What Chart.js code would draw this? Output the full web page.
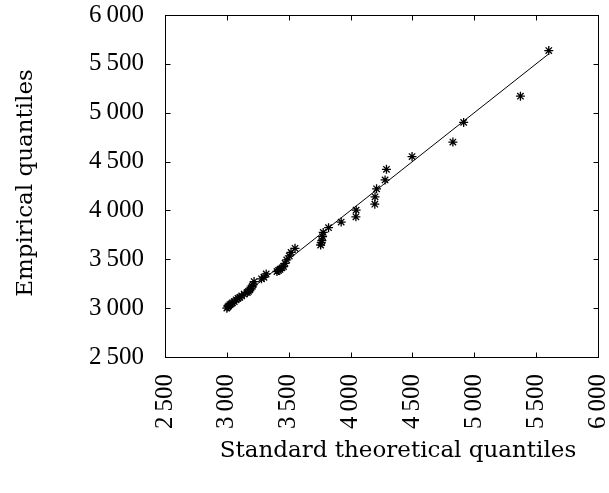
<!DOCTYPE html>
<html>
<head>
<meta charset="utf-8">
<script src="https://cdn.jsdelivr.net/npm/chart.js@4"></script>
<style>
  html, body { margin: 0; padding: 0; background: #fff; }
</style>
</head>
<body>
<canvas id="qq" width="609" height="493"></canvas>
<script>
// QQ plot: theoretical vs empirical quantiles
const theoretical = [
    3000, 3008, 3015, 3025, 3035, 3045, 3060, 3075, 3090, 3105,
    3120, 3140, 3165, 3175, 3185, 3195, 3205, 3212, 3220, 3280,
    3300, 3318, 3405, 3418, 3430, 3445, 3458, 3470, 3484, 3505,
    3519, 3551, 3758, 3763, 3768, 3774, 3779, 3822, 3924, 4043,
    4045, 4196, 4198, 4210, 4279, 4290, 4497, 4827, 4914, 5373,
    5602,
];
const empirical = [
    3000, 3012, 3023, 3035, 3044, 3055, 3067, 3085, 3100, 3110,
    3125, 3143, 3160, 3172, 3188, 3204, 3222, 3238, 3272, 3300,
    3316, 3350, 3375, 3386, 3398, 3412, 3425, 3459, 3493, 3534,
    3571, 3612, 3646, 3670, 3690, 3731, 3775, 3823, 3881, 3935,
    4003, 4064, 4139, 4221, 4312, 4421, 4551, 4700, 4901, 5169,
    5636,
];
const axisTicks = [2500, 3000, 3500, 4000, 4500, 5000, 5500, 6000];
const xTitle = 'Standard theoretical quantiles';
const yTitle = 'Empirical quantiles';

const TICK_FONT = '"Liberation Serif", serif';
const TITLE_FONT = '"DejaVu Serif", serif';

const points = theoretical.map((t, i) => ({ x: t, y: empirical[i] }));
const lo = Math.min(...theoretical);
const hi = Math.max(...theoretical);
const refLine = [{ x: lo, y: lo }, { x: hi, y: hi }];

const fmt = (v) => String(v).replace(/(\d)(\d{3})$/, '$1\u2009$2');

// box round the plot, inward tick marks on all four sides, axis titles
const frameTicks = {
    id: 'frameTicks',
    afterDraw(chart) {
        const { ctx, chartArea: a, scales: { x, y } } = chart;
        const L = Math.round(a.left) + 0.5, R = Math.round(a.right) + 0.5;
        const T = Math.round(a.top) + 0.5, B = Math.round(a.bottom) + 0.5;
        const len = 5;
        ctx.save();
        ctx.strokeStyle = '#000';
        ctx.lineWidth = 1;
        ctx.strokeRect(L, T, R - L, B - T);
        ctx.beginPath();
        axisTicks.slice(1, -1).forEach((v) => {
            const px = Math.round(x.getPixelForValue(v)) + 0.5;
            ctx.moveTo(px, B); ctx.lineTo(px, B - len);
            ctx.moveTo(px, T); ctx.lineTo(px, T + len);
            const py = Math.round(y.getPixelForValue(v)) + 0.5;
            ctx.moveTo(L, py); ctx.lineTo(L + len, py);
            ctx.moveTo(R, py); ctx.lineTo(R - len, py);
        });
        ctx.stroke();

        ctx.fillStyle = '#000';
        ctx.font = '23px ' + TITLE_FONT;
        ctx.textAlign = 'center';
        ctx.textBaseline = 'alphabetic';
        ctx.fillText(xTitle, 398, 457);
        ctx.translate(32, 183);
        ctx.rotate(-Math.PI / 2);
        ctx.fillText(yTitle, 0, 0);
        ctx.restore();
    },
};

const tickOpts = {
    color: '#000',
    font: { family: TICK_FONT, size: 25 },
    autoSkip: false,
    callback: (v) => fmt(v),
};

// fixed axis sizes, no extra label padding round the plot area
const fitTo = (prop, size) => (s) => {
    s[prop] = size;
    s.paddingTop = s.paddingBottom = s.paddingLeft = s.paddingRight = 0;
};

new Chart(document.getElementById('qq'), {
    type: 'scatter',
    data: {
        datasets: [
            {
                label: 'quantiles',
                data: points,
                pointStyle: 'star',
                pointRadius: 4.5,
                borderColor: '#000',
                backgroundColor: '#000',
                borderWidth: 1.3,
            },
            {
                type: 'line',
                label: 'reference',
                data: refLine,
                borderColor: '#000',
                borderWidth: 1,
                pointRadius: 0,
                fill: false,
            },
        ],
    },
    options: {
        responsive: false,
        animation: false,
        layout: { padding: { top: 15, right: 11, left: 0, bottom: 0 } },
        plugins: { legend: { display: false }, tooltip: { enabled: false } },
        scales: {
            x: {
                type: 'linear',
                min: 2500,
                max: 6000,
                afterBuildTicks: (s) => { s.ticks = axisTicks.map((v) => ({ value: v })); },
                afterFit: fitTo('height', 136),
                grid: { display: false, drawTicks: false },
                border: { display: false },
                ticks: { ...tickOpts, minRotation: 90, maxRotation: 90, padding: 17 },
            },
            y: {
                type: 'linear',
                min: 2500,
                max: 6000,
                afterBuildTicks: (s) => { s.ticks = axisTicks.map((v) => ({ value: v })); },
                afterFit: fitTo('width', 165),
                grid: { display: false, drawTicks: false },
                border: { display: false },
                ticks: { ...tickOpts, padding: 21 },
            },
        },
    },
    plugins: [frameTicks],
});
</script>
</body>
</html>
